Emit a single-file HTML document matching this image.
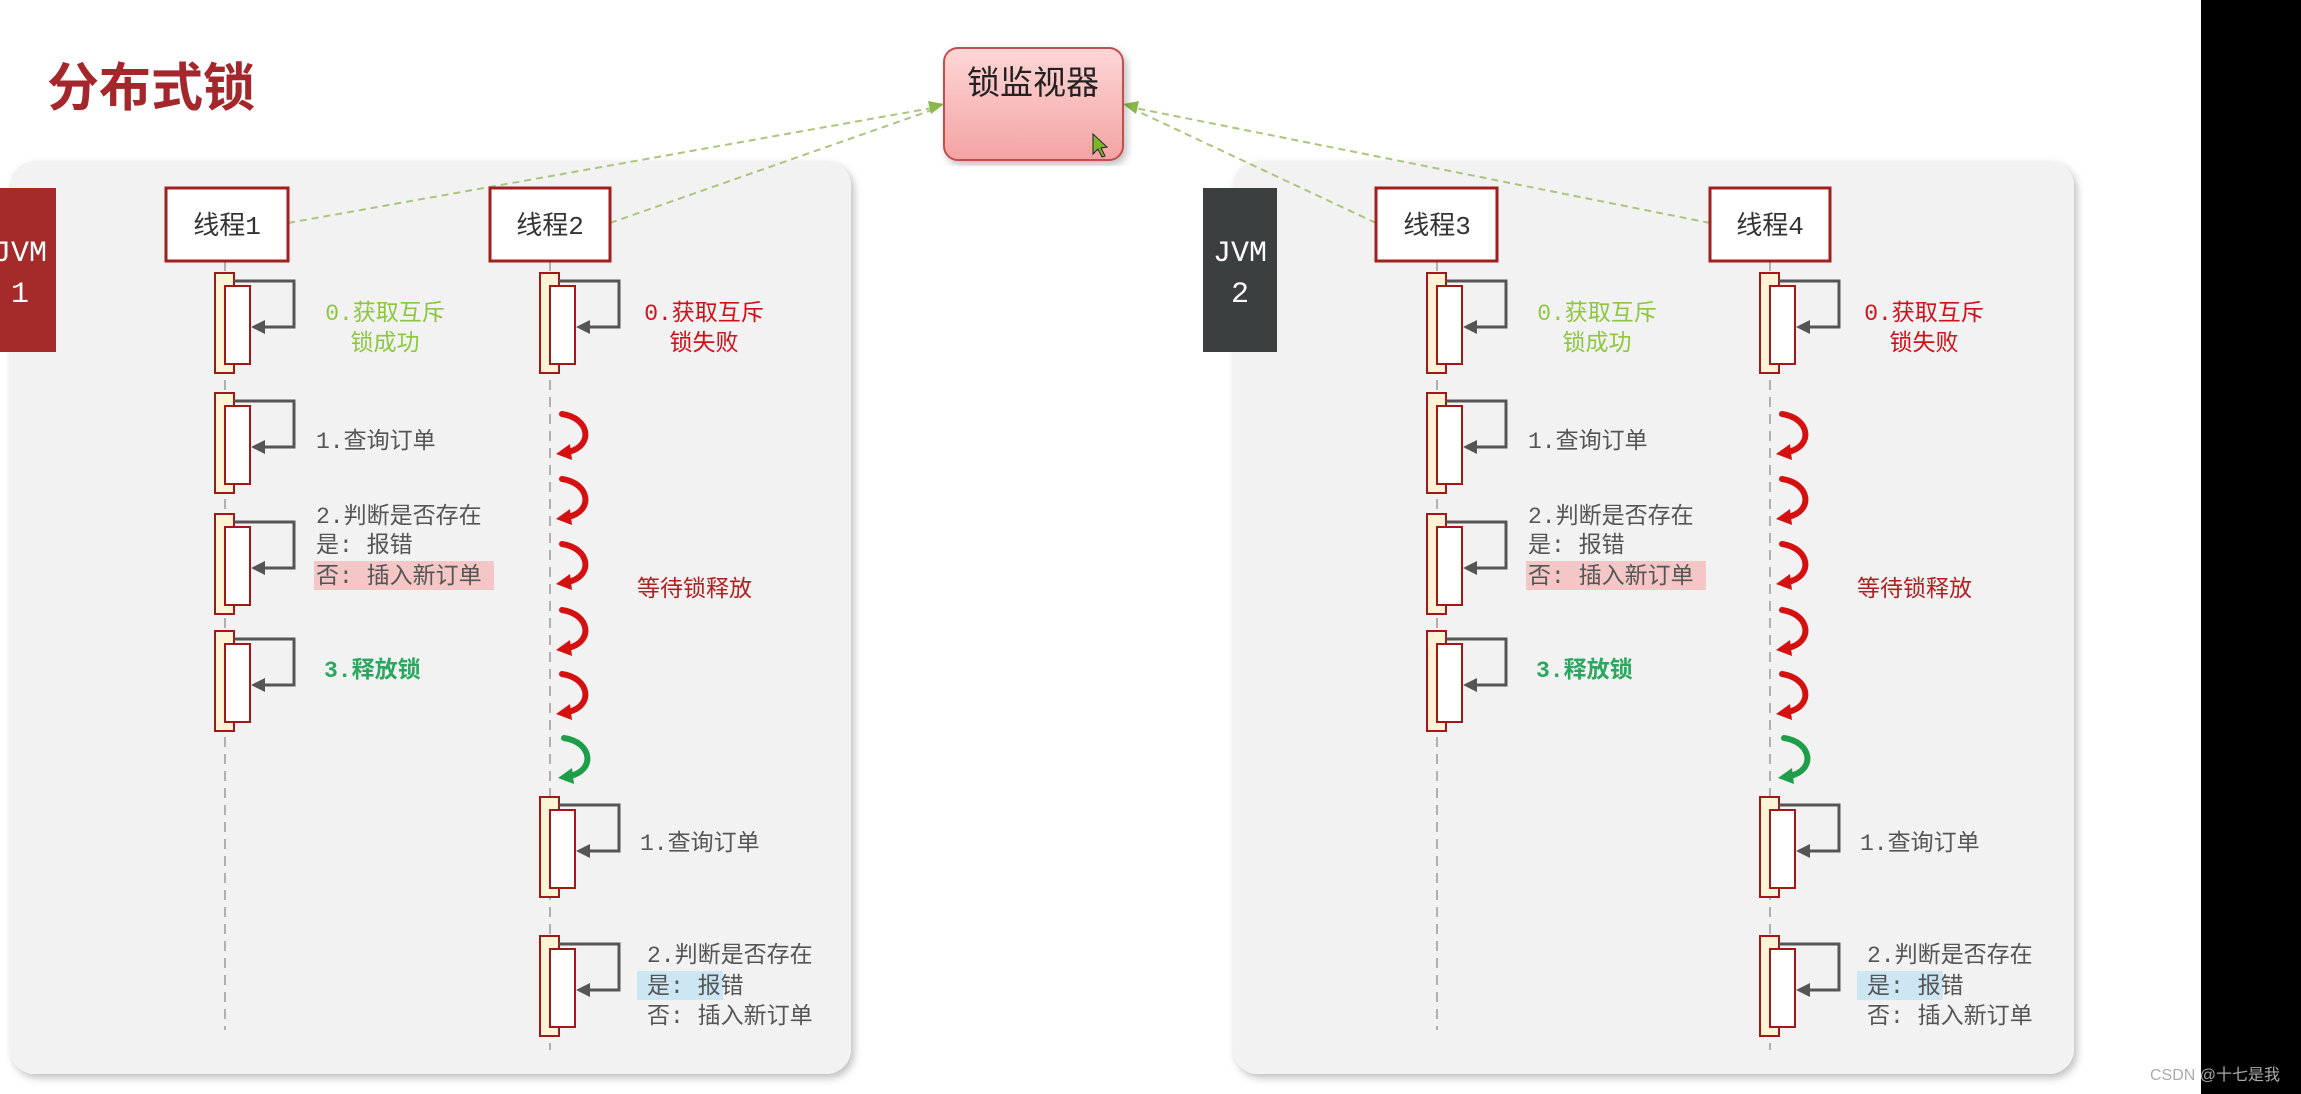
<!DOCTYPE html>
<html><head><meta charset="utf-8"><style>
html,body{margin:0;padding:0;background:#fff;width:2301px;height:1094px;overflow:hidden}
svg{display:block}
text{font-family:"Liberation Mono","Noto Sans CJK SC",monospace}
.cj{font-family:"Liberation Sans","Noto Sans CJK SC",sans-serif}
</style></head><body>
<svg width="2301" height="1094" viewBox="0 0 2301 1094" xmlns="http://www.w3.org/2000/svg">
<defs>
<linearGradient id="pk" x1="0" y1="0" x2="0" y2="1"><stop offset="0" stop-color="#ffd6d6"/><stop offset="1" stop-color="#f3a3a3"/></linearGradient>
<filter id="sh" x="-5%" y="-5%" width="110%" height="110%"><feDropShadow dx="3" dy="4" stdDeviation="4" flood-color="#000" flood-opacity="0.25"/></filter>
<g id="act">
<rect x="-10" y="0" width="19" height="100" fill="#fff3d6" stroke="#a01818" stroke-width="2"/>
<rect x="0" y="13" width="25" height="78" fill="#fff" stroke="#a01818" stroke-width="2"/>
<path d="M9 8 H69 V54 H38" fill="none" stroke="#555" stroke-width="3"/>
<polygon points="26,54 40,47 40,61" fill="#555"/>
</g>
<g id="cr">
<path d="M-8 -20 C20 -16 24 12 -2 18" fill="none" stroke="#d41010" stroke-width="6" stroke-linecap="round"/>
<polygon points="-14,20 0,10 2,26" fill="#d41010"/>
</g>
<g id="cg">
<path d="M-8 -20 C20 -16 24 12 -2 18" fill="none" stroke="#1f9e4a" stroke-width="6" stroke-linecap="round"/>
<polygon points="-14,20 0,10 2,26" fill="#1f9e4a"/>
</g>
</defs>

<rect x="2201" y="0" width="100" height="1094" fill="#000"/>

<text x="47" y="106" class="cj" font-size="52" font-weight="bold" fill="#a3272b" style="font-family:'Noto Sans CJK SC',sans-serif">分布式锁</text>

<rect x="10" y="161" width="841" height="913" rx="25" fill="#f2f2f2" filter="url(#sh)"/>
<rect x="1233" y="161" width="841" height="913" rx="25" fill="#f2f2f2" filter="url(#sh)"/>

<rect x="0" y="188" width="56" height="164" fill="#a52a2a"/>
<text x="20" y="261" font-size="30" fill="#fff" text-anchor="middle">JVM</text>
<text x="20" y="302" font-size="30" fill="#fff" text-anchor="middle">1</text>
<rect x="1203" y="188" width="74" height="164" fill="#3c3f3f"/>
<text x="1240" y="261" font-size="30" fill="#fff" text-anchor="middle">JVM</text>
<text x="1240" y="302" font-size="30" fill="#fff" text-anchor="middle">2</text>

<g stroke="#a9c67c" stroke-width="2" stroke-dasharray="7,5" fill="none">
<line x1="288" y1="223" x2="932" y2="108"/>
<line x1="610" y1="223" x2="932" y2="110"/>
<line x1="1376" y1="223" x2="1135" y2="110"/>
<line x1="1710" y1="223" x2="1135" y2="108"/>
</g>
<polygon points="944,104 928,101 931,114" fill="#8ab84a"/>
<polygon points="1123,104 1139,101 1136,114" fill="#8ab84a"/>

<rect x="944" y="48" width="179" height="112" rx="14" fill="url(#pk)" stroke="#c05050" stroke-width="2" filter="url(#sh)"/>
<text x="1033" y="94" class="cj" font-size="33" fill="#222" text-anchor="middle">锁监视器</text>
<polygon points="1093,134 1093,154 1098,149 1102,157 1105,156 1101,148 1107,147" fill="#7ab82a" stroke="#222" stroke-width="1"/>

<g stroke="#b0b0b0" stroke-width="2" stroke-dasharray="10,7">
<line x1="225" y1="261" x2="225" y2="1030"/>
<line x1="550" y1="261" x2="550" y2="1050"/>
<line x1="1437" y1="261" x2="1437" y2="1030"/>
<line x1="1770" y1="261" x2="1770" y2="1050"/>
</g>

<g fill="#fff" stroke="#a02020" stroke-width="3">
<rect x="166" y="188" width="122" height="73"/>
<rect x="490" y="188" width="120" height="73"/>
<rect x="1376" y="188" width="121" height="73"/>
<rect x="1710" y="188" width="120" height="73"/>
</g>
<g class="cj" font-size="26" fill="#333" text-anchor="middle" style="font-family:'Liberation Sans','Noto Sans CJK SC',sans-serif">
<text x="227" y="234">线程1</text>
<text x="550" y="234">线程2</text>
<text x="1437" y="234">线程3</text>
<text x="1770" y="234">线程4</text>
</g>

<g id="grp">
<use href="#act" x="225" y="273"/>
<use href="#act" x="225" y="393"/>
<use href="#act" x="225" y="514"/>
<use href="#act" x="225" y="631"/>
<text x="385" y="320" font-size="23" fill="#8dc63f" text-anchor="middle">0.获取互斥</text>
<text x="385" y="350" font-size="23" fill="#8dc63f" text-anchor="middle">锁成功</text>
<text x="316" y="448" font-size="23" fill="#555">1.查询订单</text>
<text x="316" y="523" font-size="23" fill="#555">2.判断是否存在</text>
<text x="316" y="552" font-size="23" fill="#555">是: 报错</text>
<rect x="314" y="561" width="180" height="29" fill="#f4c6c6"/>
<text x="316" y="583" font-size="23" fill="#555">否: 插入新订单</text>
<text x="324" y="677" font-size="23" fill="#2aa860" font-weight="bold">3.释放锁</text>
</g>
<g id="grp2">
<use href="#act" x="550" y="273"/>
<use href="#act" x="550" y="797"/>
<use href="#act" x="550" y="936"/>
<text x="704" y="320" font-size="23" fill="#d0101a" text-anchor="middle">0.获取互斥</text>
<text x="704" y="350" font-size="23" fill="#d0101a" text-anchor="middle">锁失败</text>
<use href="#cr" x="570" y="434"/>
<use href="#cr" x="570" y="499"/>
<use href="#cr" x="570" y="564"/>
<use href="#cr" x="570" y="630"/>
<use href="#cr" x="570" y="694"/>
<use href="#cg" x="572" y="758"/>
<text x="637" y="596" font-size="23" fill="#b02020">等待锁释放</text>
<text x="640" y="850" font-size="23" fill="#555">1.查询订单</text>
<text x="647" y="962" font-size="23" fill="#555">2.判断是否存在</text>
<rect x="637" y="971" width="86" height="29" fill="#cde6f4"/>
<text x="647" y="993" font-size="23" fill="#555">是: 报错</text>
<text x="647" y="1023" font-size="23" fill="#555">否: 插入新订单</text>
</g>

<use href="#grp" x="1212" y="0"/>
<use href="#grp2" x="1220" y="0"/>

<text x="2150" y="1080" font-size="16" fill="#aaa" style="font-family:'Liberation Sans','Noto Sans CJK SC',sans-serif">CSDN @十七是我</text>
</svg>
</body></html>
